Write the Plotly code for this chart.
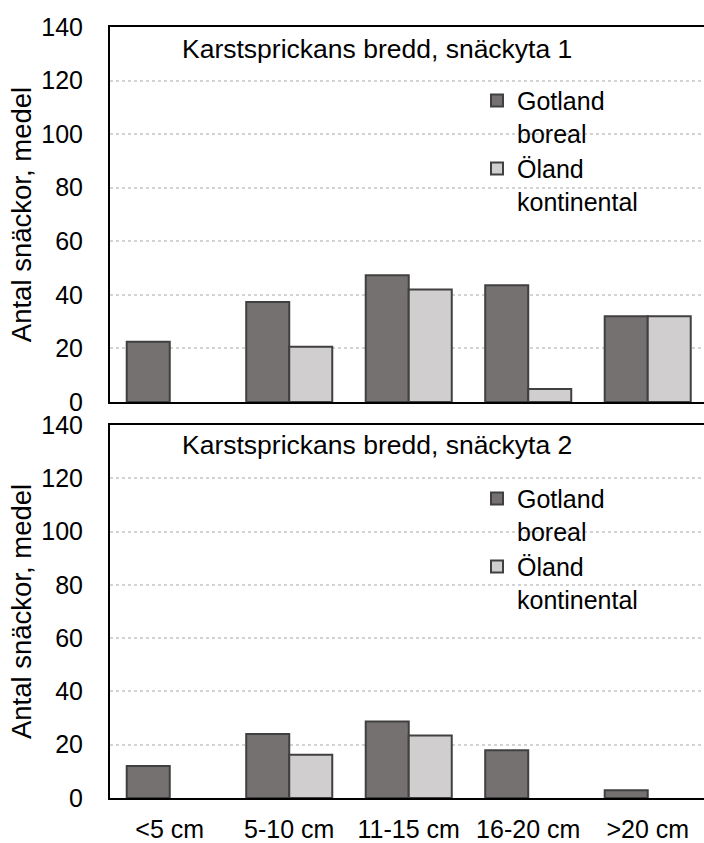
import plotly.graph_objects as go

categories = ["<5 cm", "5-10 cm", "11-15 cm", "16-20 cm", ">20 cm"]
gotland_1 = [22.5, 37.3, 47.3, 43.6, 32.0]
oland_1 = [None, 20.6, 42.0, 4.9, 32.0]
gotland_2 = [12.0, 24.0, 28.7, 17.9, 2.9]
oland_2 = [None, 16.2, 23.5, None, None]

titles = ["Karstsprickans bredd, snäckyta 1", "Karstsprickans bredd, snäckyta 2"]
names = ["Gotland<br>boreal", "Öland<br>kontinental"]
y_title = "Antal snäckor, medel"

FONT = "Liberation Sans, Arial, sans-serif"
C_GOT = "#767171"
C_OL = "#D0CECE"
C_EDGE = "#404040"

W, H = 704, 843
ML, MR, MT, MB = 110, 0, 27, 43
PH = H - MT - MB


def py(pix):
    return (H - MB - pix) / PH


def px(pix):
    return (pix - ML) / (W - ML - MR)


fig = go.Figure()

series = [(gotland_1, oland_1, "x", "y", "legend"), (gotland_2, oland_2, "x2", "y2", "legend2")]
for g, o, xa, ya, lg in series:
    fig.add_trace(go.Bar(x=categories, y=g, name=names[0], xaxis=xa, yaxis=ya, legend=lg,
                         marker=dict(color=C_GOT, line=dict(color=C_EDGE, width=2))))
    fig.add_trace(go.Bar(x=categories, y=o, name=names[1], xaxis=xa, yaxis=ya, legend=lg,
                         marker=dict(color=C_OL, line=dict(color=C_EDGE, width=2))))

xcommon = dict(type="category", range=[-0.5, 4.471], showline=True, mirror=True,
               linecolor="black", linewidth=2, ticks="", showgrid=False,
               tickfont=dict(family=FONT, size=25, color="black"))
ycommon = dict(range=[0, 140], dtick=20, showline=True, linecolor="black", linewidth=2,
               ticks="", showgrid=True, gridcolor="#D3D3D3", gridwidth=1.5, griddash="dot",
               zeroline=False, tickfont=dict(family=FONT, size=25, color="black"),
               ticklabelstandoff=20,
               title=dict(text=y_title, font=dict(family=FONT, size=27.5, color="black"), standoff=2))

legcommon = dict(font=dict(family=FONT, size=25, color="black"), bgcolor="rgba(0,0,0,0)",
                 valign="top", xanchor="left", yanchor="top", traceorder="normal")

fig.update_layout(
    width=W, height=H,
    margin=dict(l=ML, r=MR, t=MT, b=MB),
    plot_bgcolor="white", paper_bgcolor="white",
    barmode="group", bargap=0.28, bargroupgap=0,
    xaxis=dict(xcommon, domain=[0, 1], anchor="y", showticklabels=False),
    yaxis=dict(ycommon, domain=[py(403), 1], anchor="x"),
    xaxis2=dict(xcommon, domain=[0, 1], anchor="y2", showticklabels=True, ticklabelstandoff=8),
    yaxis2=dict(ycommon, domain=[0, py(426)], anchor="x2"),
    legend=dict(legcommon, x=px(477), y=py(78)),
    legend2=dict(legcommon, x=px(477), y=py(477)),
    annotations=[
        dict(text=titles[0], x=px(377), y=py(49), xref="paper", yref="paper",
             xanchor="center", yanchor="middle", showarrow=False,
             font=dict(family=FONT, size=26.5, color="black")),
        dict(text=titles[1], x=px(377), y=py(446), xref="paper", yref="paper",
             xanchor="center", yanchor="middle", showarrow=False,
             font=dict(family=FONT, size=26.5, color="black")),
    ],
)

fig.write_html("out.html")
